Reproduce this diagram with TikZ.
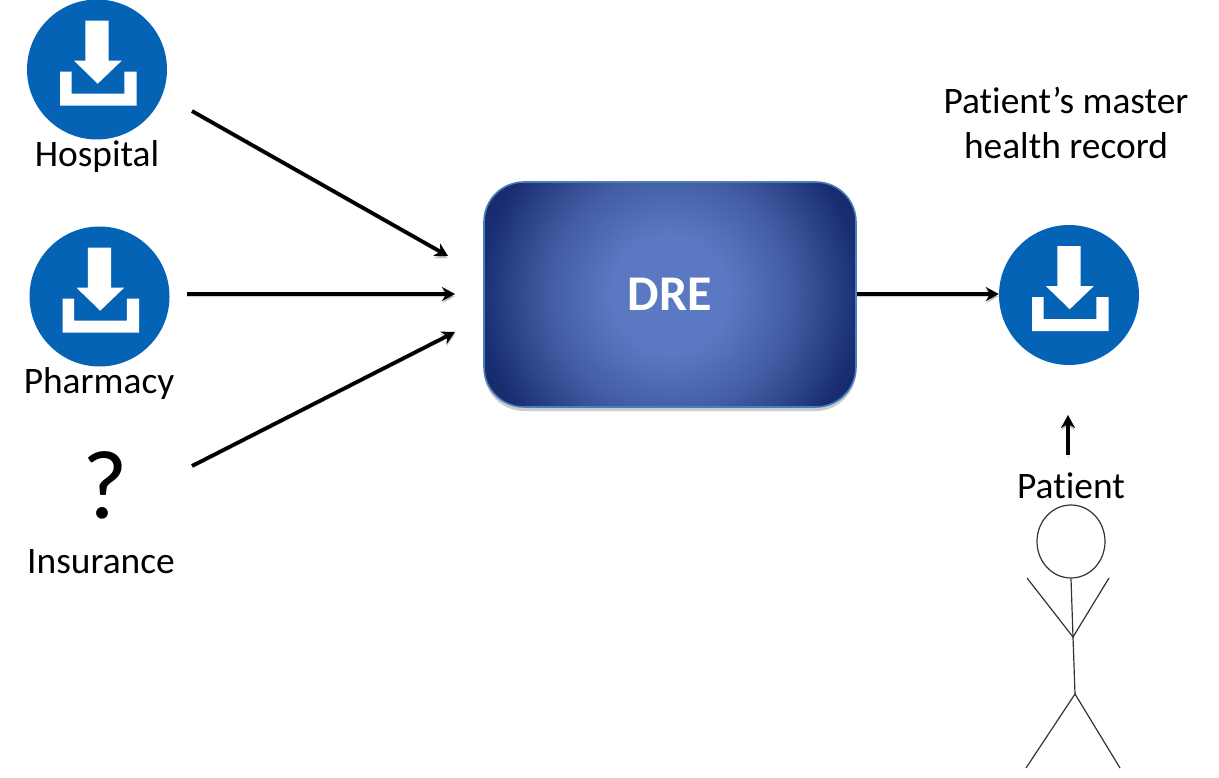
\documentclass[tikz,border=0pt]{standalone}
\usepackage{fontspec}
\setmainfont{Carlito}[Ligatures=NoCommon]
\usetikzlibrary{arrows.meta}
\usetikzlibrary{shadows}
\usetikzlibrary{shapes.geometric}

\definecolor{iconblue}{HTML}{0563B5}
\definecolor{dreinner}{HTML}{5B79C2}
\definecolor{dreouter}{HTML}{13276A}
\definecolor{dreedge}{HTML}{4A7EBB}
\definecolor{stickgray}{HTML}{333333}

\pgfdeclareradialshading{drefade}{\pgfpoint{0bp}{0bp}}{
    color(0bp)=(dreinner); color(6.5bp)=(dreinner);
    color(13.5bp)=(dreinner!66!dreouter); color(21.5bp)=(dreinner!8!dreouter);
    color(25bp)=(dreouter); color(50bp)=(dreouter)}

\tikzset{
    iconcircle/.style={circle, fill=iconblue, inner sep=0pt, minimum size=140pt},
    caption/.style={font=\fontsize{37.4}{45}\selectfont, align=center, inner sep=0pt},
    flow/.style={-{Stealth[length=13pt, width=14pt]}, line width=3.8pt,
        preaction={draw=black, opacity=0.18, transform canvas={yshift=-2.5pt}}},
    stick/.style={stickgray, line width=1.2pt},
    dlglyph/.pic={
        \fill[white] (-11.7, -48.8) -- (11.7, -48.8) -- (11.7, -8.8) -- (24.7, -8.8)
            -- (0.7, 14.2) -- (-23, -8.8) -- (-11.7, -8.8) -- cycle;
        \fill[white] (-37, 2.2) -- (-25.3, 2.2) -- (-25.3, 24.2) -- (27.3, 24.2)
            -- (27.3, 2.2) -- (39.7, 2.2) -- (39.7, 36.2) -- (-37, 36.2) -- cycle;
    }
}

\begin{document}
\begin{tikzpicture}[x=1pt, y=-1pt]
    \useasboundingbox (0, 0) rectangle (1219, 778);

    % sources
    \node[iconcircle] (hospitalicon) at (97, 69.5) {};
    \pic at (hospitalicon) {dlglyph};
    \node[caption] (hospital) at (97, 157) {Hospital};

    \node[iconcircle] (pharmacyicon) at (99.5, 296.5) {};
    \pic at (pharmacyicon) {dlglyph};
    \node[caption] (pharmacy) at (99, 383.5) {Pharmacy};

    \node[inner sep=0pt, font=\fontsize{98}{98}\selectfont] (question) at (105.5, 485) {?};
    \node[caption] (insurance) at (101, 562) {Insurance};

    % engine
    \node[draw=dreedge, line width=1.6pt, rounded corners=40pt, inner sep=0pt,
        minimum width=372pt, minimum height=225pt,
        drop shadow={shadow xshift=0pt, shadow yshift=-4pt, opacity=0.4},
        path picture={\shade[shading=drefade] (path picture bounding box.center) circle[radius=222];},
        font=\bfseries\fontsize{50}{50}\selectfont, text=white] (dre) at (670, 294.5) {DRE};

    % master record
    \node[iconcircle] (recordicon) at (1069, 295) {};
    \pic at (recordicon) {dlglyph};
    \node[caption] (record) at (1066, 122.5) {Patient’s master\\health record};

    % patient
    \node[caption] (patient) at (1071, 486) {Patient};
    \node[draw=stickgray, line width=1.2pt, ellipse, inner sep=0pt, minimum width=68pt,
        minimum height=73pt] (head) at (1071, 541.5) {};
    \coordinate (waist) at (1073, 637);
    \coordinate (hip) at (1075, 694);
    \coordinate (lefthand) at (1027, 578);
    \coordinate (righthand) at (1109, 578);
    \coordinate (leftfoot) at (1026, 768);
    \coordinate (rightfoot) at (1120, 768);
    \draw[stick] (head.south) -- (waist) -- (hip);
    \draw[stick] (lefthand) -- (waist) -- (righthand);
    \draw[stick] (leftfoot) -- (hip) -- (rightfoot);

    % arrows
    \coordinate (hospitalout) at (192, 111);
    \coordinate (hospitalin) at (448, 256);
    \coordinate (pharmacyout) at (187, 294);
    \coordinate (pharmacyin) at (455, 294);
    \coordinate (insuranceout) at (192, 466);
    \coordinate (insurancein) at (455, 332);
    \coordinate (patientout) at (1068, 455);
    \coordinate (patientin) at (1068, 415);
    \coordinate (dreout) at (dre.east |- pharmacyin);
    \coordinate (recordin) at (recordicon.west |- pharmacyin);
    \draw[flow] (hospitalout) -- (hospitalin);
    \draw[flow] (pharmacyout) -- (pharmacyin);
    \draw[flow] (insuranceout) -- (insurancein);
    \draw[flow] (dreout) -- (recordin);
    \draw[flow] (patientout) -- (patientin);
\end{tikzpicture}
\end{document}
